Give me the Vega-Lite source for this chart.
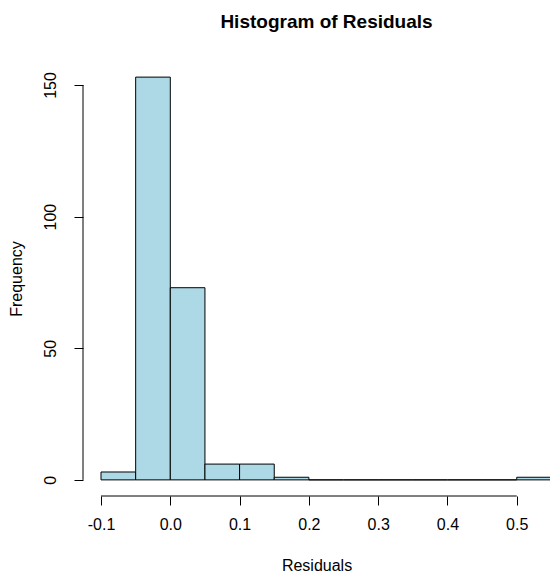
{
  "$schema": "https://vega.github.io/schema/vega-lite/v6.json",
  "width": 467,
  "height": 435,
  "autosize": {"type": "none"},
  "padding": {"left": 83, "top": 61, "right": 0, "bottom": 80},
  "background": "white",
  "config": {
    "view": {"stroke": null},
    "font": "Liberation Sans",
    "axis": {
      "grid": false,
      "domain": false,
      "tickColor": "black",
      "tickSize": 9,
      "tickWidth": 1,
      "labelColor": "black",
      "labelFont": "Liberation Sans",
      "labelFontSize": 16,
      "titleFont": "Liberation Sans",
      "titleFontSize": 16,
      "titleFontWeight": "normal",
      "titleColor": "black"
    }
  },
  "title": {
    "text": "Histogram of Residuals",
    "font": "Liberation Sans",
    "fontSize": 19,
    "fontWeight": "bold",
    "color": "black",
    "anchor": "middle",
    "baseline": "alphabetic",
    "dx": 10,
    "offset": 14
  },
  "datasets": {
    "bins": [
      {"bin_start": -0.1, "bin_end": -0.05, "count": 3},
      {"bin_start": -0.05, "bin_end": 0.0, "count": 153},
      {"bin_start": 0.0, "bin_end": 0.05, "count": 73},
      {"bin_start": 0.05, "bin_end": 0.1, "count": 6},
      {"bin_start": 0.1, "bin_end": 0.15, "count": 6},
      {"bin_start": 0.15, "bin_end": 0.2, "count": 1},
      {"bin_start": 0.2, "bin_end": 0.25, "count": 0},
      {"bin_start": 0.25, "bin_end": 0.3, "count": 0},
      {"bin_start": 0.3, "bin_end": 0.35, "count": 0},
      {"bin_start": 0.35, "bin_end": 0.4, "count": 0},
      {"bin_start": 0.4, "bin_end": 0.45, "count": 0},
      {"bin_start": 0.45, "bin_end": 0.5, "count": 0},
      {"bin_start": 0.5, "bin_end": 0.55, "count": 1}
    ],
    "xaxis": [{"from": -0.1, "to": 0.5}],
    "yaxis": [{"from": 0, "to": 150}]
  },
  "layer": [
    {
      "data": {"name": "bins"},
      "mark": {"type": "rect", "fill": "#ADD8E6", "stroke": "black", "strokeWidth": 1, "clip": true},
      "encoding": {
        "x": {
          "field": "bin_start",
          "type": "quantitative",
          "scale": {"domain": [-0.126, 0.548], "nice": false, "zero": false},
          "axis": {
            "title": "Residuals",
            "values": [-0.1, 0, 0.1, 0.2, 0.3, 0.4, 0.5],
            "labelExpr": "replace(format(datum.value, '.1f'), '\u2212', '-')",
            "labelPadding": 11,
            "titlePadding": 25
          }
        },
        "x2": {"field": "bin_end"},
        "y": {
          "field": "count",
          "type": "quantitative",
          "scale": {"domain": [-6.12, 159.12], "nice": false, "zero": false},
          "axis": {
            "title": "Frequency",
            "values": [0, 50, 100, 150],
            "labelAngle": 270,
            "labelAlign": "center",
            "labelBaseline": "bottom",
            "labelPadding": 16,
            "titlePadding": 18
          }
        },
        "y2": {"datum": 0}
      }
    },
    {
      "data": {"name": "xaxis"},
      "mark": {"type": "rule", "color": "black", "strokeWidth": 1},
      "encoding": {
        "x": {"field": "from", "type": "quantitative"},
        "x2": {"field": "to"},
        "y": {"datum": -6.12}
      }
    },
    {
      "data": {"name": "yaxis"},
      "mark": {"type": "rule", "color": "black", "strokeWidth": 1},
      "encoding": {
        "y": {"field": "from", "type": "quantitative"},
        "y2": {"field": "to"},
        "x": {"datum": -0.126}
      }
    }
  ]
}
